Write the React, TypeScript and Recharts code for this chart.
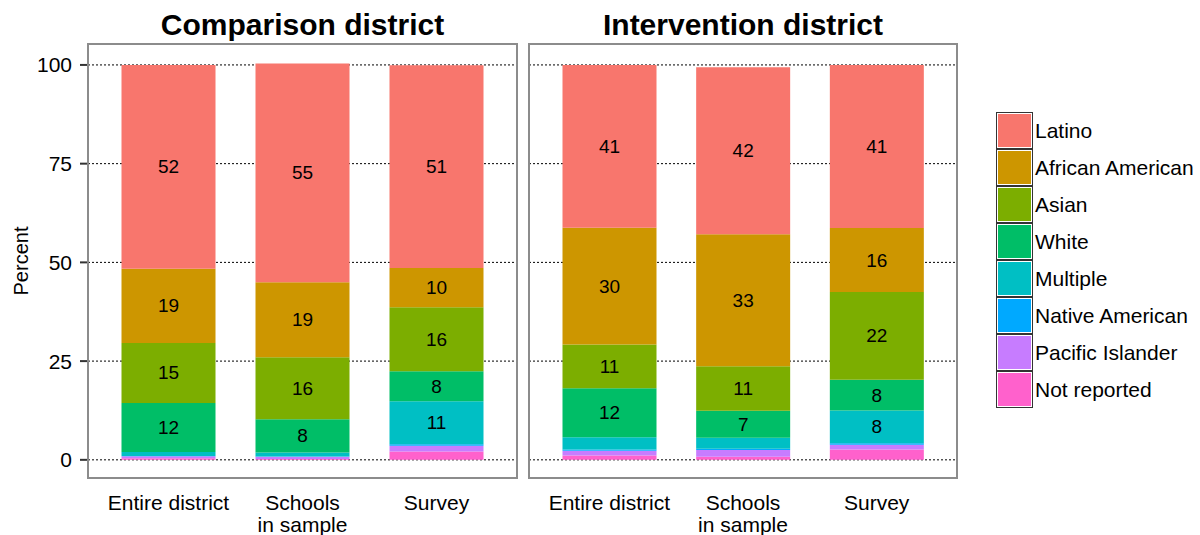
import React from 'react';
import { BarChart, Bar, XAxis, YAxis, CartesianGrid, LabelList } from 'recharts';

const categories = ['Entire district', 'Schools\nin sample', 'Survey'];
const districts = ['Comparison district', 'Intervention district'];
const groups = [
  'Latino',
  'African American',
  'Asian',
  'White',
  'Multiple',
  'Native American',
  'Pacific Islander',
  'Not reported',
];
const colors = ['#F8766D', '#CD9600', '#7CAE00', '#00BE67', '#00BFC4', '#00A9FF', '#C77CFF', '#FF61CC'];

// first three values: comparison district, last three: intervention district
const latino = [51.6, 55.4, 51.4, 41.2, 42.3, 41.3];
const africanAmerican = [18.8, 19.0, 9.9, 29.6, 33.4, 16.2];
const asian = [15.2, 15.7, 16.2, 11.1, 11.3, 22.2];
const white = [12.4, 8.4, 7.6, 12.4, 6.8, 7.8];
const multiple = [1.0, 1.0, 10.9, 3.1, 2.8, 8.3];
const nativeAmerican = [0.1, 0.05, 0.4, 0.3, 0.3, 0.4];
const pacificIslander = [0.5, 0.6, 1.45, 1.2, 1.7, 1.2];
const notReported = [0.4, 0.2, 2.1, 1.1, 0.8, 2.6];

const yTicks = [0, 25, 50, 75, 100];

const series = [latino, africanAmerican, asian, white, multiple, nativeAmerican, pacificIslander, notReported];

const FONT = '"Liberation Sans", Arial, Helvetica, sans-serif';
const PLOT_TOP = 44;
const PLOT_BOTTOM = 478;

function rowsFor(d: number) {
  return categories.map((category, i) => {
    const row: Record<string, string | number> = { category };
    groups.forEach((g, gi) => {
      row[g] = series[gi][d * 3 + i];
    });
    return row;
  });
}

function CategoryTick(props: any) {
  const { x, y, payload } = props;
  const lines = String(payload.value).split('\n');
  return (
    <text x={x} y={y} textAnchor="middle" fontSize={21} fill="#000" fontFamily={FONT}>
      {lines.map((line, i) => (
        <tspan key={i} x={x} dy={i === 0 ? 32 : 22}>
          {line}
        </tspan>
      ))}
    </text>
  );
}

const renderLabel = (props: any) => {
  const { x, y, width, height, value } = props;
  if (value == null || Number(value) < 5) return null;
  return (
    <text
      x={Number(x) + Number(width) / 2}
      y={Number(y) + Number(height) / 2}
      textAnchor="middle"
      dominantBaseline="central"
      fontSize={19}
      fill="#000"
      fontFamily={FONT}
    >
      {Math.round(Number(value))}
    </text>
  );
};

function DistrictPanel({
  d,
  left,
  width,
  marginLeft,
  marginRight,
  showY,
}: {
  d: number;
  left: number;
  width: number;
  marginLeft: number;
  marginRight: number;
  showY: boolean;
}) {
  const data = rowsFor(d);
  const plotLeft = left + marginLeft + (showY ? 88 : 0);
  const plotRight = left + width - marginRight;
  const plotW = plotRight - plotLeft;

  return (
    <>
      <div
        style={{
          position: 'absolute',
          left: plotLeft,
          top: 7,
          width: plotW,
          textAlign: 'center',
          fontSize: 30,
          lineHeight: '36px',
          fontWeight: 'bold',
          fontFamily: FONT,
          color: '#000',
        }}
      >
        {districts[d]}
      </div>
      <div style={{ position: 'absolute', left, top: 0 }}>
        <BarChart
          width={width}
          height={535}
          data={data}
          margin={{ top: PLOT_TOP, right: marginRight, bottom: 0, left: marginLeft }}
          barCategoryGap={20}
        >
          <CartesianGrid horizontal vertical={false} stroke="#000" strokeDasharray="2 2" />
          <XAxis
            dataKey="category"
            height={535 - PLOT_BOTTOM}
            padding={{ left: 13.5, right: 13.5 }}
            axisLine={false}
            tickLine={false}
            tickSize={0}
            tickMargin={0}
            interval={0}
            tick={<CategoryTick />}
          />
          <YAxis
            hide={!showY}
            width={88}
            type="number"
            domain={[-4.6, 105.3]}
            ticks={yTicks}
            allowDataOverflow
            axisLine={false}
            tickSize={8}
            tickMargin={8}
            tickLine={{ stroke: '#333', strokeWidth: 2 }}
            tick={{ fill: '#000', fontSize: 21, fontFamily: FONT }}
            label={{
              content: () => (
                <text
                  x={21}
                  y={(PLOT_TOP + PLOT_BOTTOM) / 2}
                  transform={`rotate(-90 21 ${(PLOT_TOP + PLOT_BOTTOM) / 2})`}
                  textAnchor="middle"
                  dominantBaseline="central"
                  fontSize={20}
                  fill="#000"
                  fontFamily={FONT}
                >
                  Percent
                </text>
              ),
            }}
          />
          {[...groups].reverse().map((g) => (
            <Bar key={g} dataKey={g} stackId="a" fill={colors[groups.indexOf(g)]} isAnimationActive={false}>
              <LabelList dataKey={g} position="center" content={renderLabel} />
            </Bar>
          ))}
        </BarChart>
      </div>
      <div
        style={{
          position: 'absolute',
          left: plotLeft - 1,
          top: PLOT_TOP - 1,
          width: plotW + 2,
          height: PLOT_BOTTOM - PLOT_TOP + 2,
          border: '2px solid #8c8c8c',
          boxSizing: 'border-box',
          pointerEvents: 'none',
        }}
      />
    </>
  );
}

export default function App() {
  return (
    <div
      style={{
        position: 'absolute',
        left: 0,
        top: 0,
        width: 1200,
        height: 535,
        background: '#fff',
        fontFamily: FONT,
      }}
    >
      <DistrictPanel d={0} left={0} width={530} marginLeft={0} marginRight={13} showY />
      <DistrictPanel d={1} left={518} width={440} marginLeft={11} marginRight={1} showY={false} />
      <div style={{ position: 'absolute', left: 996, top: 112 }}>
        {groups.map((g, i) => (
          <div key={g} style={{ display: 'flex', alignItems: 'center', height: 37 }}>
            <div
              style={{
                width: 37,
                height: 37,
                background: colors[i],
                border: '1px solid #333',
                boxShadow: 'inset 0 0 0 1px #fff',
                boxSizing: 'border-box',
              }}
            />
            <span style={{ marginLeft: 2, fontSize: 21, color: '#000', whiteSpace: 'nowrap' }}>{g}</span>
          </div>
        ))}
      </div>
    </div>
  );
}
